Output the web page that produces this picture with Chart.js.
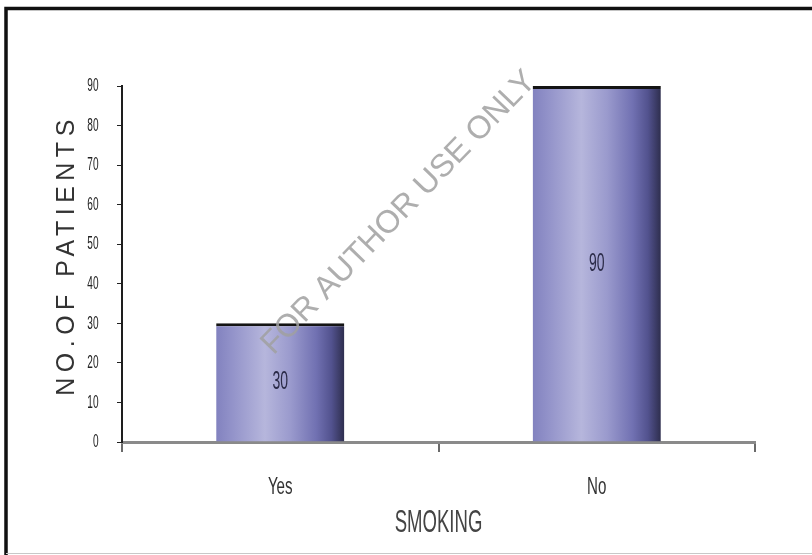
<!DOCTYPE html>
<html>
<head>
<meta charset="utf-8">
<script src="https://cdn.jsdelivr.net/npm/chart.js@4/dist/chart.umd.min.js"></script>
<style>
  html, body { margin: 0; padding: 0; background: #ffffff; }
  #wrap { width: 812px; height: 555px; position: relative; }
</style>
</head>
<body>
<div id="wrap"><canvas id="chart"></canvas></div>
<script>
// Smoking status of the patients
const categories = ['Yes', 'No'];
const patients = [30, 90];
const yTickValues = [0, 10, 20, 30, 40, 50, 60, 70, 80, 90];
const xAxisTitle = 'SMOKING';
const yAxisTitle = 'NO.OF PATIENTS';
const watermarkText = 'FOR AUTHOR USE ONLY';

const SANS = '"Liberation Sans", Arial, sans-serif';
const BAR_FRACTION = 0.405;

// Horizontally squeezed text, like a condensed face
function narrowText(ctx, text, x, y, size, squeeze, color, align) {
  ctx.save();
  ctx.translate(x, y);
  ctx.scale(squeeze, 1);
  ctx.font = size + 'px ' + SANS;
  ctx.fillStyle = color;
  ctx.textAlign = align || 'center';
  ctx.textBaseline = 'middle';
  ctx.fillText(text, 0, 0);
  ctx.restore();
}

// Cylinder-like shading across each bar
function barShade(c) {
  const chart = c.chart;
  const xs = chart.scales && chart.scales.x;
  if (!chart.chartArea || !xs || c.type !== 'data') return '#9a9ad0';
  const cx = xs.getPixelForValue(c.dataIndex);
  const half = (xs.width / categories.length) * BAR_FRACTION / 2;
  const g = chart.ctx.createLinearGradient(cx - half, 0, cx + half, 0);
  g.addColorStop(0.00, '#8282bf');
  g.addColorStop(0.12, '#9292c9');
  g.addColorStop(0.38, '#b6b6dc');
  g.addColorStop(0.58, '#9a9acd');
  g.addColorStop(0.78, '#7171b2');
  g.addColorStop(0.90, '#52528e');
  g.addColorStop(1.00, '#2e2e4e');
  return g;
}

const decor = {
  id: 'decor',
  afterDatasetsDraw(chart) {
    const ctx = chart.ctx;
    const meta = chart.getDatasetMeta(0);
    meta.data.forEach((bar, i) => {
      const midY = (bar.y + bar.base) / 2;
      narrowText(ctx, String(patients[i]), bar.x, midY, 25, 0.56, '#2b2b48', 'center');
    });
  },
  afterDraw(chart) {
    const ctx = chart.ctx;
    const xs = chart.scales.x, ys = chart.scales.y;

    // outer frame
    ctx.save();
    ctx.strokeStyle = '#111';
    ctx.lineWidth = 3.5;
    ctx.beginPath();
    ctx.moveTo(6, 555);
    ctx.lineTo(6, 8.5);
    ctx.lineTo(812, 8.5);
    ctx.stroke();
    ctx.strokeStyle = '#c8c8c8';
    ctx.lineWidth = 1;
    ctx.beginPath();
    ctx.moveTo(6, 553.5);
    ctx.lineTo(812, 553.5);
    ctx.stroke();
    ctx.restore();

    // y tick labels
    ys.ticks.forEach((t, i) => {
      narrowText(ctx, String(t.value), 98.5, ys.getPixelForTick(i), 19, 0.53, '#222', 'right');
    });
    // category labels
    xs.ticks.forEach((t, i) => {
      narrowText(ctx, categories[i], xs.getPixelForTick(i), 487, 24, 0.63, '#333', 'center');
    });
    // x axis title
    narrowText(ctx, xAxisTitle, (xs.left + xs.right) / 2, 523.5, 32, 0.58, '#444', 'center');

    // y axis title, widely spaced
    ctx.save();
    ctx.translate(67, 255);
    ctx.rotate(-Math.PI / 2);
    ctx.font = '25px ' + SANS;
    ctx.letterSpacing = '5.5px';
    ctx.fillStyle = '#333';
    ctx.textAlign = 'center';
    ctx.textBaseline = 'middle';
    ctx.fillText(yAxisTitle, 0, 0);
    ctx.restore();

    // diagonal watermark
    ctx.save();
    ctx.translate(399, 213);
    ctx.rotate(-46 * Math.PI / 180);
    ctx.font = '32px ' + SANS;
    ctx.fillStyle = 'rgba(160,160,160,0.85)';
    ctx.textAlign = 'center';
    ctx.textBaseline = 'middle';
    ctx.fillText(watermarkText, 0, 0);
    ctx.restore();
  }
};

new Chart(document.getElementById('chart'), {
  type: 'bar',
  data: {
    labels: categories,
    datasets: [{
      data: patients,
      backgroundColor: barShade,
      borderColor: '#141414',
      borderWidth: { top: 3, left: 0, right: 0, bottom: 0 },
      borderSkipped: 'bottom',
      categoryPercentage: 1,
      barPercentage: BAR_FRACTION
    }]
  },
  options: {
    responsive: true,
    maintainAspectRatio: false,
    animation: false,
    events: [],
    layout: { padding: { top: 86, right: 57, left: 0, bottom: 0 } },
    plugins: { legend: { display: false }, tooltip: { enabled: false } },
    scales: {
      x: {
        grid: { offset: true, drawOnChartArea: false, drawTicks: true, tickLength: 10, color: '#6a6a6a', lineWidth: 2 },
        border: { display: true, color: '#8a8a8a', width: 3 },
        ticks: { color: 'rgba(0,0,0,0)', font: { size: 14 } },
        afterFit(scale) { scale.height = 113; }
      },
      y: {
        min: 0,
        max: 90,
        afterBuildTicks(scale) { scale.ticks = yTickValues.map(v => ({ value: v })); },
        grid: { drawOnChartArea: false, drawTicks: true, tickLength: 5, color: '#222', lineWidth: 1 },
        border: { display: true, color: '#1e1e1e', width: 2 },
        ticks: { color: 'rgba(0,0,0,0)', font: { size: 14 } },
        afterFit(scale) { scale.width = 122; }
      }
    }
  },
  plugins: [decor]
});
</script>
</body>
</html>
